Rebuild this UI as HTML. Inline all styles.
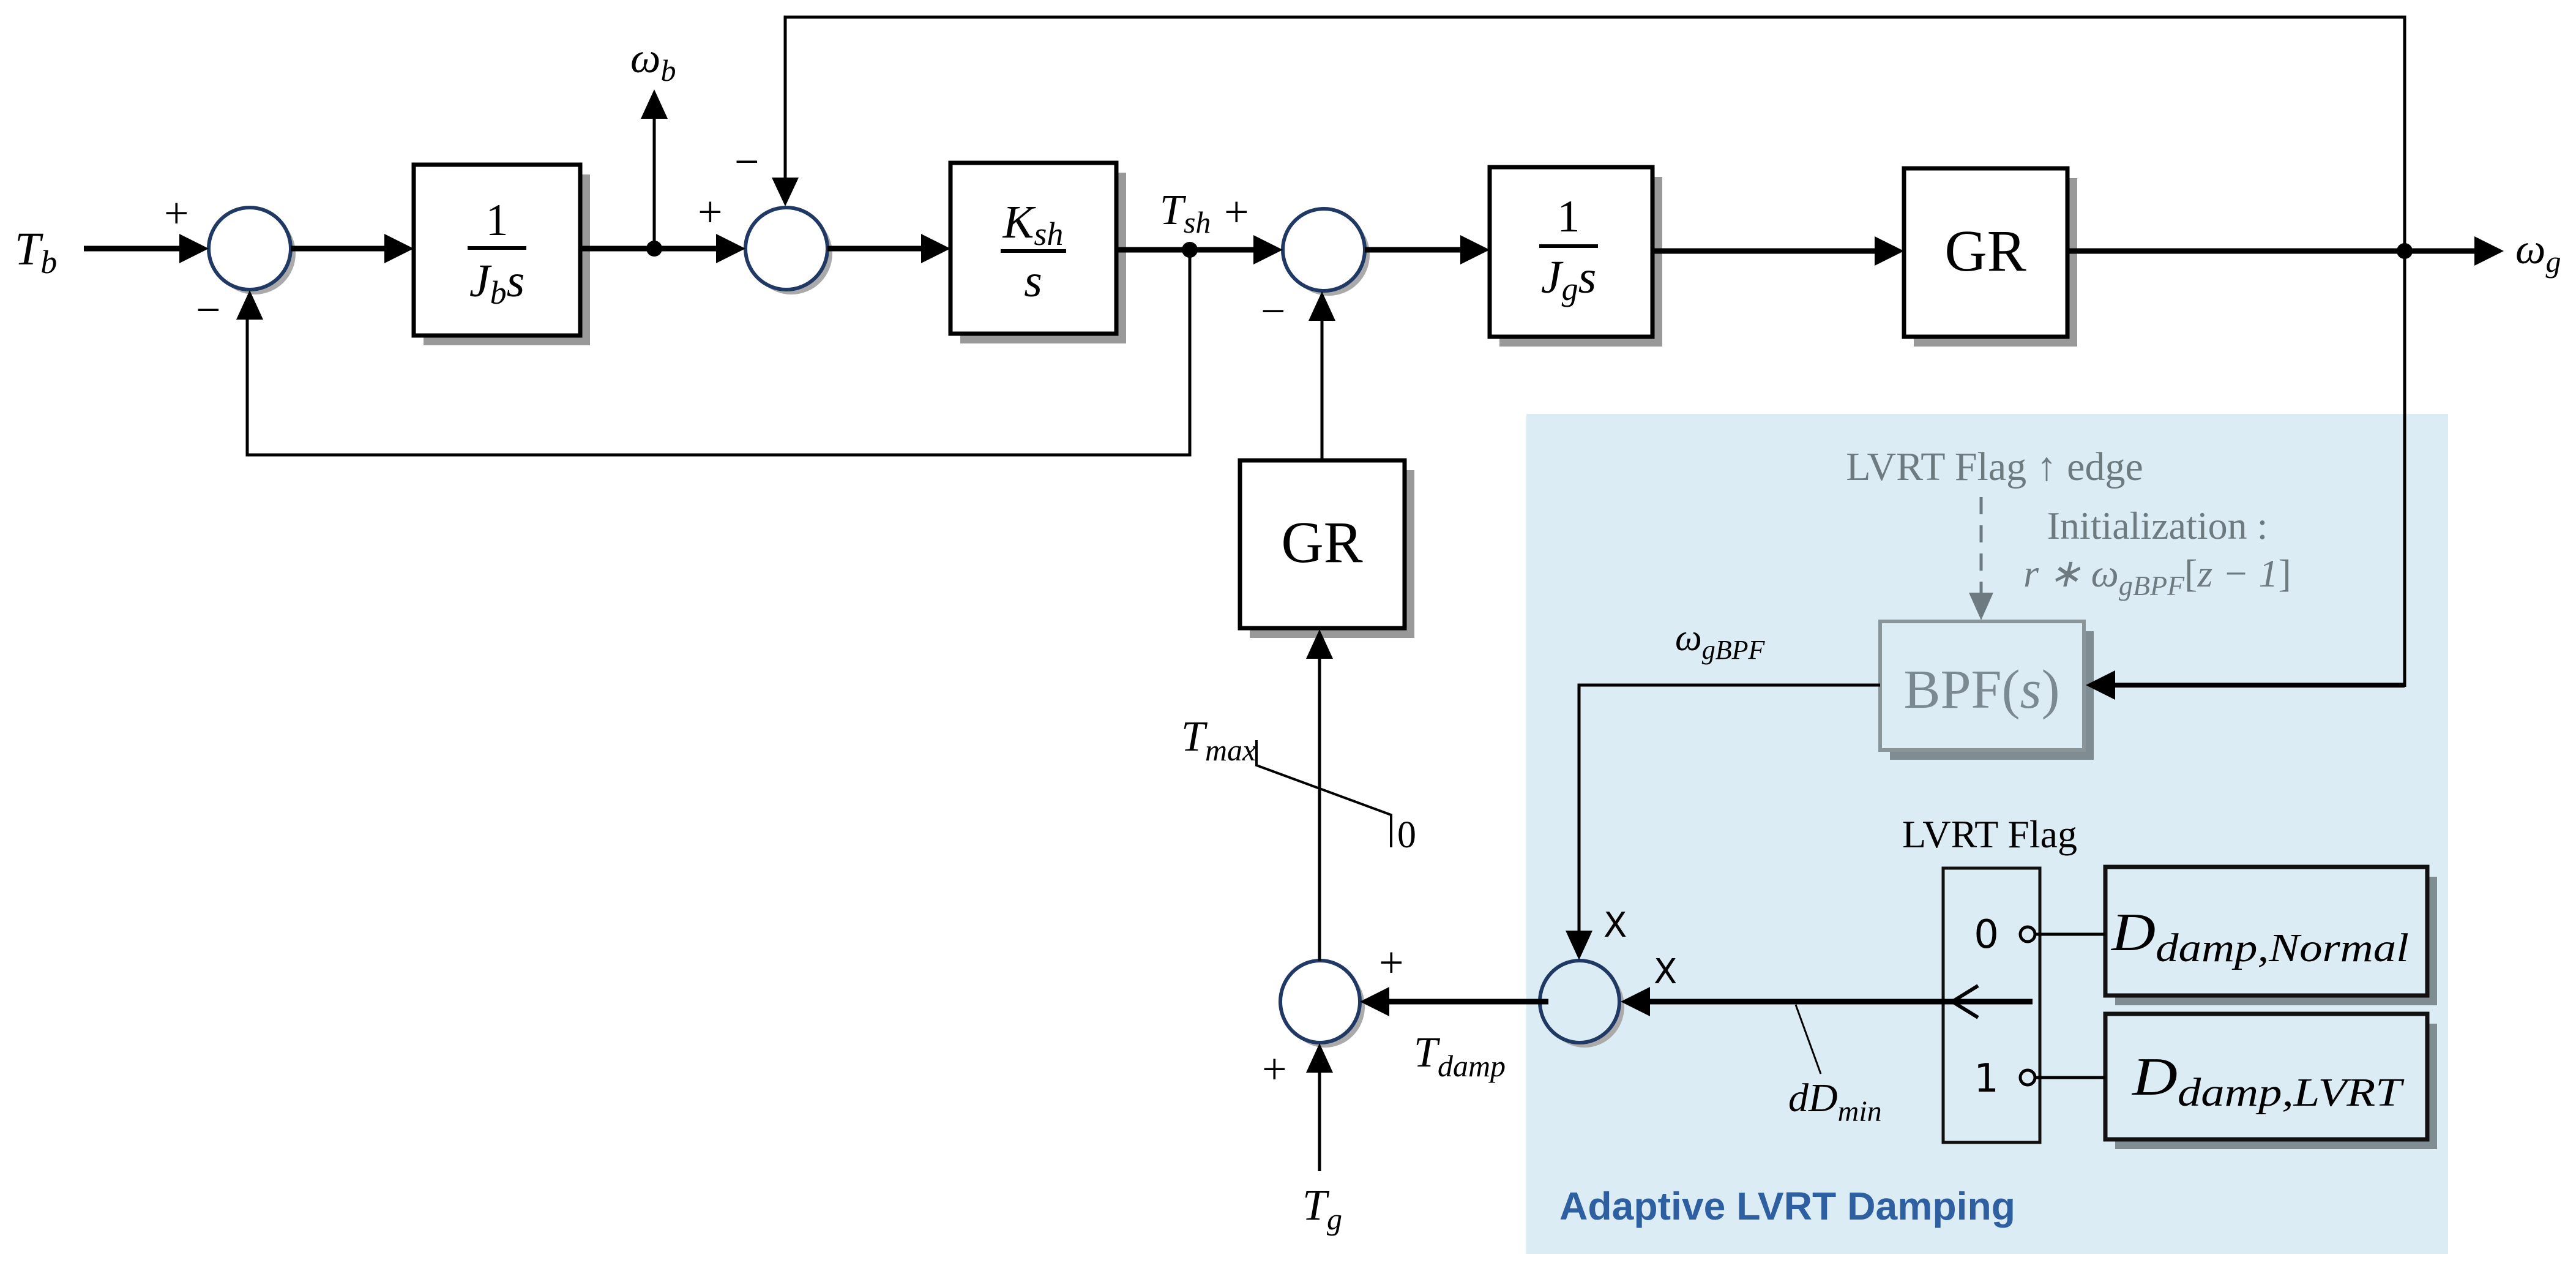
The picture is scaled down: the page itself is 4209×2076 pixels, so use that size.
<!DOCTYPE html>
<html><head><meta charset="utf-8"><style>
html,body{margin:0;padding:0;background:#fff;}
svg{display:block}
.m{font-family:"Liberation Serif",serif;font-style:italic;fill:#000}
.r{font-family:"Liberation Serif",serif;fill:#000}
</style></head><body>
<svg width="4209" height="2076" viewBox="0 0 4209 2076" xmlns="http://www.w3.org/2000/svg">
<rect x="2494" y="676" width="1506" height="1372" fill="#dcecf4"/>

<g fill="#999">
<rect x="692" y="285" width="272" height="279"/>
<rect x="1569" y="282" width="271" height="279"/>
<rect x="2450" y="289" width="266" height="277"/>
<rect x="3127" y="291" width="267" height="275"/>
<rect x="2042" y="768" width="269" height="274"/>
</g>
<g fill="#7f8c92">
<rect x="3088" y="1031" width="333" height="210"/>
<rect x="3456" y="1432" width="526" height="210"/>
<rect x="3456" y="1672" width="526" height="205"/>
</g>
<g fill="#fff" stroke="#000" stroke-width="7">
<rect x="676" y="269" width="272" height="279"/>
<rect x="1553" y="266" width="271" height="279"/>
<rect x="2434" y="273" width="266" height="277"/>
<rect x="3111" y="275" width="267" height="275"/>
<rect x="2026" y="752" width="269" height="274"/>
</g>
<rect x="3072" y="1015" width="333" height="210" fill="#dcecf4" stroke="#8a9599" stroke-width="6"/>
<g fill="#dcecf4" stroke="#111" stroke-width="7">
<rect x="3440" y="1416" width="526" height="210"/>
<rect x="3440" y="1656" width="526" height="205"/>
</g>
<rect x="3175" y="1418" width="158" height="448" fill="#dcecf4" stroke="#111" stroke-width="5"/>

<g fill="#aaa">
<circle cx="416" cy="414" r="67"/><circle cx="1293" cy="414" r="67"/><circle cx="2171" cy="416" r="67"/>
<ellipse cx="2165" cy="1644" rx="65" ry="67"/><ellipse cx="2589" cy="1644" rx="65" ry="67"/>
</g>
<g stroke="#1f3864" stroke-width="6">
<circle cx="408" cy="406" r="67" fill="#fff"/><circle cx="1285" cy="406" r="67" fill="#fff"/><circle cx="2163" cy="408" r="67" fill="#fff"/>
<ellipse cx="2157" cy="1636" rx="65" ry="67" fill="#fff"/><ellipse cx="2581" cy="1636" rx="65" ry="67" fill="#dcecf4"/>
</g>

<g stroke="#000" stroke-width="9" fill="none">
<line x1="137" y1="406" x2="300" y2="406"/>
<line x1="475" y1="406" x2="640" y2="406"/>
<line x1="948" y1="406" x2="1180" y2="406"/>
<line x1="1352" y1="406" x2="1515" y2="406"/>
<line x1="1824" y1="408" x2="2060" y2="408"/>
<line x1="2230" y1="408" x2="2400" y2="408"/>
<line x1="2700" y1="410" x2="3075" y2="410"/>
<line x1="3378" y1="410" x2="4055" y2="410"/>
<line x1="2530" y1="1636" x2="2260" y2="1636"/>
<line x1="3321" y1="1636" x2="2690" y2="1636"/>
<line x1="3929" y1="1119" x2="3440" y2="1119" stroke-width="8"/>
</g>
<g stroke="#000" stroke-width="5" fill="none">
<polyline points="3929,410 3929,28 1283,28 1283,300"/>
<line x1="3929" y1="410" x2="3929" y2="1122"/>
<line x1="1069" y1="406" x2="1069" y2="190"/>
<polyline points="1944,408 1944,743 404,743 404,510"/>
<line x1="2160" y1="752" x2="2160" y2="510"/>
<line x1="2156" y1="1569" x2="2156" y2="1065"/>
<line x1="2156" y1="1913" x2="2156" y2="1740"/>
<polyline points="3072,1119 2580,1119 2580,1525"/>
<polyline points="2053,1209 2053,1250 2273,1331 2273,1384" stroke-width="4"/>
<line x1="2934" y1="1641" x2="2975" y2="1754" stroke-width="3"/>
<line x1="3325" y1="1526" x2="3440" y2="1526"/>
<line x1="3325" y1="1760" x2="3440" y2="1760"/>
<polyline points="3232,1610 3190,1636 3232,1662" stroke-width="6"/>
</g>
<circle cx="3313" cy="1526" r="12" fill="#dcecf4" stroke="#000" stroke-width="5"/>
<circle cx="3313" cy="1760" r="12" fill="#dcecf4" stroke="#000" stroke-width="5"/>
<line x1="3237" y1="812" x2="3237" y2="975" stroke="#6d7b80" stroke-width="5" stroke-dasharray="28,18"/>
<polygon points="3237,1013 3217,968 3257,968" fill="#6d7b80"/>

<g fill="#000"><circle cx="1069" cy="406" r="13"/><circle cx="1944" cy="408" r="13"/><circle cx="3929" cy="410" r="13"/></g>

<g fill="#000">
<polygon points="341,406 293,382 293,430"/>
<polygon points="676,406 628,382 628,430"/>
<polygon points="1218,406 1170,382 1170,430"/>
<polygon points="1553,406 1505,382 1505,430"/>
<polygon points="2096,408 2048,384 2048,432"/>
<polygon points="2434,408 2386,384 2386,432"/>
<polygon points="3111,410 3063,386 3063,434"/>
<polygon points="4091,410 4043,386 4043,434"/>
<polygon points="1069,146 1047,194 1091,194"/>
<polygon points="1283,337 1261,290 1305,290"/>
<polygon points="408,474 386,522 430,522"/>
<polygon points="2160,476 2138,524 2182,524"/>
<polygon points="2156,1028 2134,1076 2178,1076"/>
<polygon points="2156,1704 2134,1752 2178,1752"/>
<polygon points="2580,1568 2558,1520 2602,1520"/>
<polygon points="2222,1636 2270,1612 2270,1660"/>
<polygon points="2648,1636 2696,1612 2696,1660"/>
<polygon points="3408,1119 3456,1095 3456,1143"/>
</g>
<g stroke="#000" stroke-width="6">
<line x1="764" y1="405" x2="860" y2="405"/>
<line x1="1635" y1="410" x2="1742" y2="410"/>
<line x1="2515" y1="402" x2="2611" y2="402"/>
</g>

<text class="r" x="812" y="384" font-size="74" text-anchor="middle">1</text>
<text class="m" x="812" y="484" font-size="76" text-anchor="middle">J<tspan font-size="54" dy="12">b</tspan><tspan dy="-12">s</tspan></text>
<text class="m" x="1688" y="388" font-size="76" text-anchor="middle">K<tspan font-size="54" dy="12">sh</tspan></text>
<text class="m" x="1688" y="484" font-size="76" text-anchor="middle">s</text>
<text class="r" x="2563" y="378" font-size="74" text-anchor="middle">1</text>
<text class="m" x="2563" y="478" font-size="76" text-anchor="middle">J<tspan font-size="54" dy="12">g</tspan><tspan dy="-12">s</tspan></text>
<text class="r" x="3244" y="442" font-size="96" text-anchor="middle">GR</text>
<text class="r" x="2160" y="918" font-size="96" text-anchor="middle">GR</text>
<text class="r" x="3238" y="1156" font-size="90" text-anchor="middle" style="fill:#7b8a90">BPF(<tspan font-style="italic">s</tspan>)</text>

<text class="m" x="24" y="432" font-size="76">T<tspan font-size="54" dy="14">b</tspan></text>
<text class="m" x="1030" y="118" font-size="70">ω<tspan font-size="50" dy="14">b</tspan></text>
<text class="m" x="1895" y="366" font-size="70">T<tspan font-size="50" dy="14">sh</tspan></text>
<text class="m" x="4110" y="430" font-size="70">ω<tspan font-size="50" dy="14">g</tspan></text>
<g class="r" font-size="72">
<text x="268" y="372">+</text><text x="320" y="530">−</text>
<text x="1140" y="370">+</text><text x="1200" y="288">−</text>
<text x="2000" y="370">+</text><text x="2060" y="532">−</text>
<text x="2253" y="1596">+</text><text x="2062" y="1770">+</text>
</g>
<text class="m" x="2737" y="1062" font-size="62">ω<tspan font-size="44" dy="14">gBPF</tspan></text>
<text class="m" x="1930" y="1226" font-size="70">T<tspan font-size="50" dy="16">max</tspan></text>
<text class="r" x="2283" y="1384" font-size="62">0</text>
<text class="m" x="2310" y="1742" font-size="70">T<tspan font-size="50" dy="16">damp</tspan></text>
<text class="m" x="2128" y="1992" font-size="72">T<tspan font-size="50" dy="16">g</tspan></text>
<text class="m" x="2922" y="1815" font-size="66">dD<tspan font-size="48" dy="16">min</tspan></text>
<text x="2620" y="1530" font-size="56" font-family="DejaVu Sans, sans-serif">X</text>
<text x="2702" y="1606" font-size="56" font-family="DejaVu Sans, sans-serif">X</text>
<text class="r" x="3251" y="1384" font-size="64" text-anchor="middle">LVRT Flag</text>
<text x="3266" y="1548" font-size="64" font-family="DejaVu Sans, sans-serif" text-anchor="end">0</text>
<text x="3266" y="1783" font-size="64" font-family="DejaVu Sans, sans-serif" text-anchor="end">1</text>
<text class="m" x="3450" y="1552" font-size="88" textLength="486" lengthAdjust="spacingAndGlyphs">D<tspan font-size="66" dy="18">damp,Normal</tspan></text>
<text class="m" x="3484" y="1788" font-size="88" textLength="440" lengthAdjust="spacingAndGlyphs">D<tspan font-size="66" dy="18">damp,LVRT</tspan></text>
<text class="r" x="3259" y="784" font-size="66" text-anchor="middle" style="fill:#6d7b80">LVRT Flag ↑ edge</text>
<text class="r" x="3525" y="880" font-size="64" text-anchor="middle" style="fill:#6d7b80">Initialization :</text>
<text class="m" x="3525" y="958" font-size="64" text-anchor="middle" style="fill:#6d7b80">r ∗ ω<tspan font-size="46" dy="14">gBPF</tspan><tspan dy="-14" font-style="normal">[</tspan>z − 1<tspan font-style="normal">]</tspan></text>
<text x="2548" y="1992" font-size="64" font-weight="bold" font-family="Liberation Sans, sans-serif" fill="#2e5fa0" textLength="745" lengthAdjust="spacingAndGlyphs">Adaptive LVRT Damping</text>
</svg>
</body></html>
